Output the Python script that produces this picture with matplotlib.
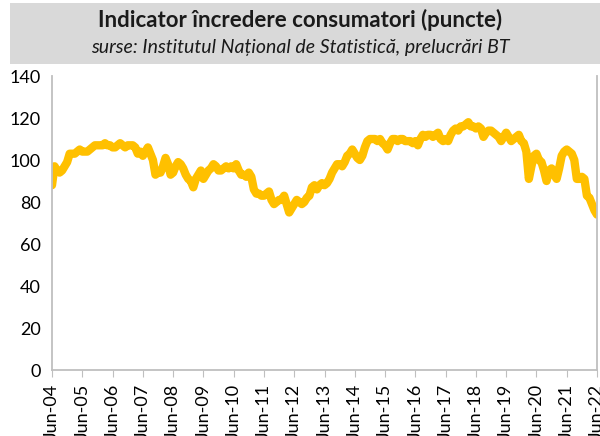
import matplotlib
matplotlib.use("Agg")
import matplotlib.pyplot as plt
from matplotlib.patches import Rectangle

plt.rcParams['font.family'] = ['Lato', 'DejaVu Sans']

# monthly consumer confidence values, Jun-2004 .. Jun-2022
v2004 = [88, 97, 95, 94, 95, 97, 99]
v2005 = [103, 103, 103, 104, 105, 104, 104, 104, 105, 106, 107, 107]
v2006 = [107, 107, 108, 107, 107, 106, 106, 107, 108, 107, 106, 107]
v2007 = [107, 107, 106, 103, 104, 102, 104, 106, 103, 100, 93, 94]
v2008 = [94, 97, 101, 98, 93, 94, 97, 99, 98, 96, 93, 91]
v2009 = [90, 87, 91, 93, 95, 91, 93, 95, 96, 98, 97, 95]
v2010 = [95, 96, 97, 96, 97, 96, 98, 95, 93, 93, 92, 94]
v2011 = [92, 86, 84, 84, 83, 83, 84, 85, 81, 79, 80, 81]
v2012 = [81, 83, 79, 75, 77, 79, 81, 80, 79, 80, 82, 83]
v2013 = [87, 88, 86, 88, 89, 88, 89, 91, 94, 96, 98, 98]
v2014 = [97, 99, 102, 103, 105, 103, 101, 100, 102, 106, 109, 110]
v2015 = [110, 110, 109, 110, 108, 107, 105, 108, 110, 110, 109, 110]
v2016 = [110, 109, 109, 109, 108, 109, 107, 110, 112, 111, 112, 112]
v2017 = [111, 112, 113, 110, 109, 110, 109, 112, 114, 115, 114, 116]
v2018 = [116, 117, 118, 116, 116, 115, 116, 115, 111, 113, 114, 114]
v2019 = [113, 112, 111, 109, 111, 113, 111, 109, 110, 111, 112, 109]
v2020 = [108, 104, 91, 97, 102, 103, 100, 99, 95, 90, 95, 96]
v2021 = [93, 91, 96, 102, 104, 105, 104, 103, 100, 91, 91, 92]
v2022 = [91, 83, 82, 79, 76, 74]

xlabels = ["Jun-04", "Jun-05", "Jun-06", "Jun-07", "Jun-08", "Jun-09",
           "Jun-10", "Jun-11", "Jun-12", "Jun-13", "Jun-14", "Jun-15",
           "Jun-16", "Jun-17", "Jun-18", "Jun-19", "Jun-20", "Jun-21",
           "Jun-22"]
yticks = [0, 20, 40, 60, 80, 100, 120, 140]

title = "Indicator încredere consumatori (puncte)"
subtitle = "surse: Institutul Național de Statistică, prelucrări BT"

values = (v2004 + v2005 + v2006 + v2007 + v2008 + v2009 + v2010 + v2011
          + v2012 + v2013 + v2014 + v2015 + v2016 + v2017 + v2018 + v2019
          + v2020 + v2021 + v2022)
months = list(range(len(values)))

fig = plt.figure(figsize=(6.0, 4.36), dpi=100)

# grey title box
fig.patches.append(Rectangle((10 / 600, 1 - 64 / 436), 590 / 600, 61 / 436,
                             transform=fig.transFigure, facecolor="#D9D9D9",
                             edgecolor="none", zorder=0))
fig.text(0.5, 1 - 20 / 436, title, ha="center", va="center",
         fontsize=16, fontweight="bold", color="#1a1a1a")
fig.text(0.5, 1 - 47 / 436, subtitle, ha="center", va="center",
         fontsize=14, style="italic", color="#1a1a1a")

ax = fig.add_axes([52 / 600, 1 - 370 / 436, 545 / 600, 294 / 436])
ax.plot(months, values, color="#FFC000", lw=6, solid_capstyle="round",
        solid_joinstyle="round")

ax.set_ylim(0, 140)
ax.set_yticks(yticks)
ax.set_xlim(0, 216)
ax.set_xticks(range(0, 217, 12))
ax.set_xticklabels(xlabels, rotation=90, fontsize=13)
ax.tick_params(axis="y", length=0, labelsize=13, pad=8)
ax.tick_params(axis="x", length=5, color="#BFBFBF", pad=5)

for side in ["left", "bottom", "right"]:
    ax.spines[side].set_color("#BFBFBF")
    ax.spines[side].set_linewidth(1.3)
ax.spines["top"].set_visible(False)

fig.savefig("out.png", dpi=100)
